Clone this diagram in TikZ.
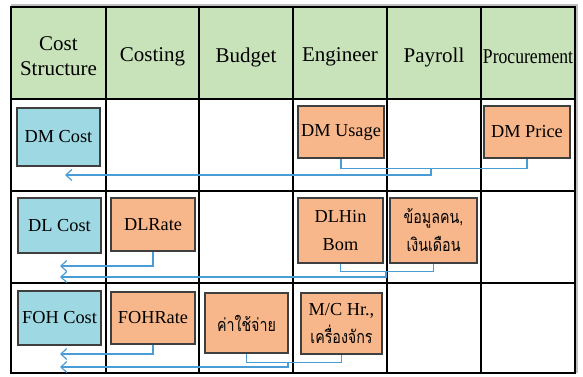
\documentclass[tikz,border=0pt]{standalone}
\usepackage{fontspec}
\usepackage{graphicx}
\setmainfont{Liberation Serif}
\newfontfamily\thaifont[Script=Thai]{Loma}
\usetikzlibrary{arrows.meta}
\definecolor{hdr_green}{HTML}{C8E2B9}
\definecolor{cost_blue}{HTML}{9DD8E3}
\definecolor{src_orange}{HTML}{F8B78B}
\definecolor{link_blue}{HTML}{4A9CD6}
\definecolor{box_line}{HTML}{3F3F3F}
\newcommand\thaitext[1]{\scalebox{0.95}[1.2]{\thaifont\fontsize{15}{28}\selectfont #1}}

\begin{document}
\begin{tikzpicture}[x=1pt, y=-1pt,
    head/.style={font=\fontsize{21}{25}\selectfont, align=center},
    box/.style={draw=box_line, line width=1.2pt, inner sep=0pt, align=center, font=\fontsize{18.3}{28}\selectfont},
    costbox/.style={box, fill=cost_blue},
    srcbox/.style={box, fill=src_orange},
    link/.style={draw=link_blue, line width=1.2pt},
    tip/.style={-{Straight Barb[length=6pt, width=11pt, line width=1.2pt]}}
  ]
  \useasboundingbox (0,0) rectangle (583,376);

  % table
  \draw[black!25, line width=1.5pt] (11,5) -- (577,5) -- (577,373);
  \fill[hdr_green] (11,7) rectangle (575,99);
  \foreach \x in {106,199,293,387,481}
    \draw[line width=1.3pt] (\x,7) -- (\x,373);
  \foreach \y in {99,191,283}
    \draw[line width=1.8pt] (11,\y) -- (575,\y);
  \draw[line width=2pt] (11,7) rectangle (575,373);

  \node[head] (hcost) at (58.5,56) {Cost\\Structure};
  \node[head] (hcosting) at (152.5,57) {Costing};
  \node[head] (hbudget) at (246,57) {Budget};
  \node[head] (heng) at (340,57) {Engineer};
  \node[head] (hpay) at (434,57) {Payroll};
  \node[head] (hproc) at (528,57) {\scalebox{0.84}[1]{Procurement}};

  % DM row
  \node[costbox, minimum width=83pt, minimum height=58pt] (dmcost) at (58.5,137) {DM Cost};
  \node[srcbox, minimum width=86pt, minimum height=52pt] (dmusage) at (341,132) {DM Usage};
  \node[srcbox, minimum width=86pt, minimum height=52pt] (dmprice) at (527,132) {DM Price};

  % DL row
  \node[costbox, minimum width=83pt, minimum height=55pt] (dlcost) at (59.5,225.5) {DL Cost};
  \node[srcbox, minimum width=84pt, minimum height=53pt] (dlrate) at (153,224.5) {DLRate};
  \node[srcbox, minimum width=85pt, minimum height=65pt] (dlhin) at (340.5,230.5) {DLHin\\Bom};
  \node[srcbox, minimum width=87pt, minimum height=65pt] (payinfo) at (433.5,230.5) {\thaitext{ข้อมูลคน,}\\\thaitext{เงินเดือน}};

  % FOH row
  \node[costbox, minimum width=83pt, minimum height=54pt] (fohcost) at (59.5,318) {FOH Cost};
  \node[srcbox, minimum width=84pt, minimum height=52pt] (fohrate) at (153,318) {FOHRate};
  \node[srcbox, minimum width=83pt, minimum height=60pt] (expense) at (246.5,323) {\thaitext{ค่าใช้จ่าย}};
  \node[srcbox, minimum width=81pt, minimum height=61pt] (mchr) at (341.5,323.5) {M/C Hr.,\\\thaitext{เครื่องจักร}};

  \coordinate (dmjoin) at (431,168);
  \coordinate (dmend) at (65,175);
  \coordinate (dlend1) at (60,266);
  \coordinate (dljoin) at (386,271);
  \coordinate (dlend2) at (60,277);
  \coordinate (fohend1) at (60,354);
  \coordinate (fohjoin) at (288,362);
  \coordinate (fohend2) at (60,367);

  \draw[link] (dmusage.south) -- ++(0,10) -| (dmprice.south);
  \draw[link, tip] (dmjoin) |- (dmend);

  \draw[link, tip] (dlrate.south) |- (dlend1);
  \draw[link] (dlhin.south) -- ++(0,8) -| (payinfo.south);
  \draw[link, tip] (dljoin) |- (dlend2);

  \draw[link, tip] (fohrate.south) |- (fohend1);
  \draw[link] (expense.south) -- ++(0,9) -| (mchr.south);
  \draw[link, tip] (fohjoin) |- (fohend2);
\end{tikzpicture}
\end{document}
